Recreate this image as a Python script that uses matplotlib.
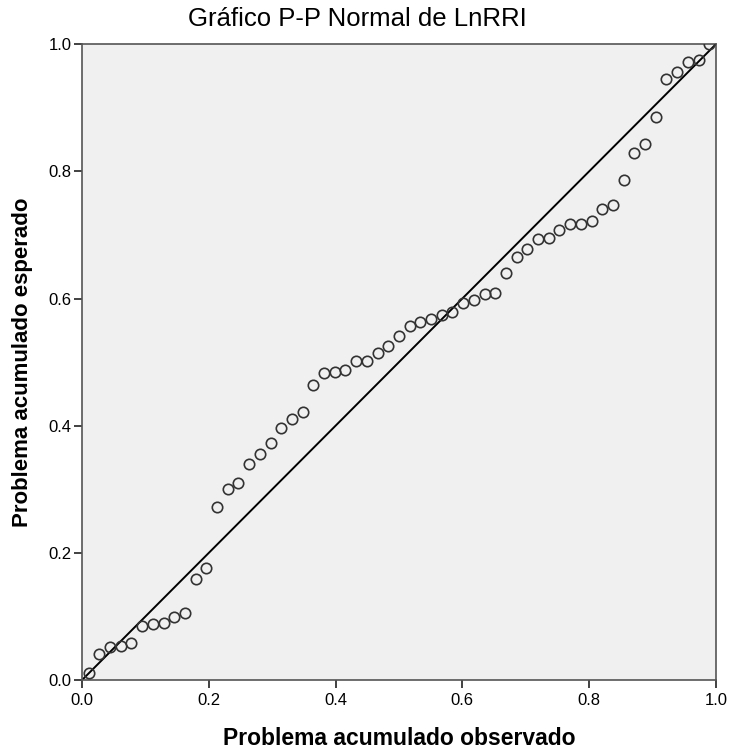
import numpy as np
import matplotlib
matplotlib.use("Agg")
import matplotlib.pyplot as plt

# observed cumulative probability (Blom ranks, n = 59)
observado = [0.0105, 0.0274, 0.0443, 0.0612, 0.0781, 0.0949, 0.1118, 0.1287, 0.1456, 0.1624,
             0.1793, 0.1962, 0.2131, 0.2300, 0.2468, 0.2637, 0.2806, 0.2975, 0.3143, 0.3312,
             0.3481, 0.3650, 0.3819, 0.3987, 0.4156, 0.4325, 0.4494, 0.4662, 0.4831, 0.5000,
             0.5169, 0.5338, 0.5506, 0.5675, 0.5844, 0.6013, 0.6181, 0.6350, 0.6519, 0.6688,
             0.6857, 0.7025, 0.7194, 0.7363, 0.7532, 0.7700, 0.7869, 0.8038, 0.8207, 0.8376,
             0.8544, 0.8713, 0.8882, 0.9051, 0.9219, 0.9388, 0.9557, 0.9726, 0.9895]

esperado = [0.011, 0.041, 0.052, 0.053, 0.058, 0.085, 0.088, 0.090, 0.099, 0.105,
            0.159, 0.176, 0.272, 0.300, 0.310, 0.340, 0.355, 0.373, 0.396, 0.410,
            0.421, 0.464, 0.483, 0.484, 0.487, 0.502, 0.502, 0.514, 0.525, 0.541,
            0.557, 0.563, 0.568, 0.574, 0.579, 0.593, 0.597, 0.607, 0.608, 0.640,
            0.665, 0.678, 0.693, 0.695, 0.708, 0.717, 0.718, 0.722, 0.741, 0.747,
            0.786, 0.829, 0.843, 0.885, 0.945, 0.956, 0.972, 0.975, 1.000]

ticks = [0.0, 0.2, 0.4, 0.6, 0.8, 1.0]

plt.rcParams['font.family'] = ['Liberation Sans', 'DejaVu Sans']

fig = plt.figure(figsize=(7.32, 7.49), dpi=100)
ax = fig.add_axes([0.112, 0.092, 0.866, 0.849])
ax.set_facecolor('#f0f0f0')

ax.plot([0, 1], [0, 1], color='black', lw=1.4, zorder=2)
ax.plot(observado, esperado, linestyle='none', marker='o', markersize=7.5,
        markerfacecolor='none', markeredgecolor='#333333', markeredgewidth=1.2, zorder=3)

ax.set_xlim(0, 1)
ax.set_ylim(0, 1)
ax.set_xticks(ticks)
ax.set_yticks(ticks)
ax.set_xticklabels(['%.1f' % t for t in ticks])
ax.set_yticklabels(['%.1f' % t for t in ticks])
ax.tick_params(direction='out', length=6, width=1.3, colors='#333333',
               labelsize=12, labelcolor='black', top=False, right=False)
ax.tick_params(axis='y', pad=1.5)
ax.tick_params(axis='x', pad=3)

for s in ax.spines.values():
    s.set_color('#555555')
    s.set_linewidth(1.2)

fig.text(0.488, 1 - 19 / 749, 'Gráfico P-P Normal de LnRRI', fontsize=18.5,
         ha='center', va='center')
ax.set_xlabel('Problema acumulado observado', fontsize=16.5, fontweight='bold', labelpad=14)
ax.set_ylabel('Problema acumulado esperado', fontsize=16, fontweight='bold', labelpad=11)

fig.savefig('out.png', dpi=100)
